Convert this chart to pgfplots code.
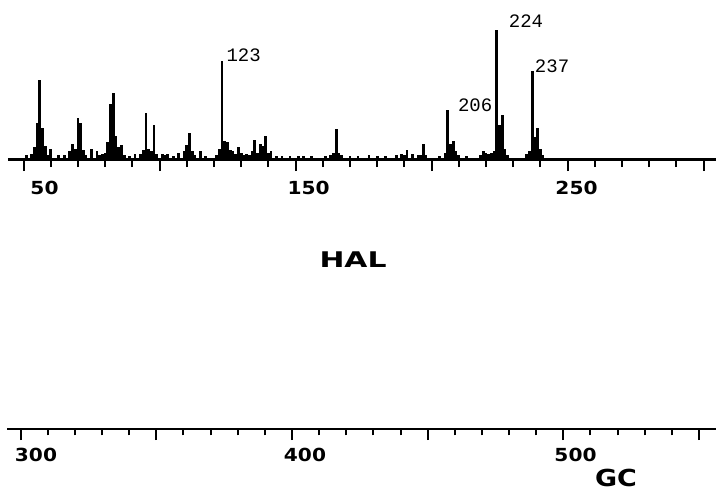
\documentclass[border=0pt]{standalone}
\usepackage{pgfplots}
\pgfplotsset{compat=1.18}
\usepackage{graphicx}
\usepackage{fontspec}
\setmainfont{DejaVu Sans}
\newfontfamily\monofont{Liberation Mono}
\newcommand{\tl}[1]{\scalebox{1.12}[1]{\fontsize{9pt}{10pt}\bfseries #1}}
\begin{document}
\begin{tikzpicture}
\useasboundingbox (-4pt,-167.5pt) rectangle (354pt,79.5pt);
\begin{axis}[
  at={(0pt,0pt)}, anchor=south west,
  scale only axis, width=354pt, height=64.5pt,
  xmin=44.3, xmax=304.6, ymin=0, ymax=100,
  axis x line=bottom, axis y line=none,
  axis line style={-, line width=1.5pt},
  xtick={50,100,...,300}, minor x tick num=4,
  xticklabels={},
  tick align=outside,
  major tick length=6pt, minor tick length=4pt,
  tick style={black, line width=1pt},
  clip=false,
]
\addplot[ycomb, black, line width=1.4pt, mark=none] table {
m i
51 3
53 4
54 9
55 28
56 61
57 24
58 10
59 3
60 8
63 3
65 3
67 6
68 12
69 8
70 32
71 28
72 7
73 3
75 8
77 6
78 3
79 4
80 5
81 13
82 43
83 51
84 18
85 9
86 11
87 3
89 2
91 4
93 4
94 7
95 36
96 8
97 6
98 26
99 4
101 4
102 3
103 4
105 2
107 5
109 6
110 11
111 20
112 6
113 3
115 6
117 2
121 3
122 8
123 76
124 14
125 13
126 7
127 6
128 4
129 9
130 5
131 3
132 4
133 3
134 6
135 15
136 5
137 12
138 10
139 18
140 5
141 6
143 2
145 2
148 2
151 2
153 2
156 2
161 2
163 3
164 5
165 23
166 5
167 3
170 2
173 2
177 3
180 2
183 2
187 3
189 4
190 3
191 7
193 4
195 3
196 3
197 12
198 3
203 2
205 5
206 38
207 12
208 14
209 6
210 3
213 2
218 3
219 6
220 5
221 4
222 5
223 6
224 100
225 26
226 34
227 8
228 3
235 4
236 6
237 68
238 17
239 24
240 8
241 3
};
\node[anchor=west, inner sep=0, font=\monofont\fontsize{9.5pt}{10pt}\selectfont] at (axis cs:124.5,80.6) {123};
\node[anchor=west, inner sep=0, font=\monofont\fontsize{9.5pt}{10pt}\selectfont] at (axis cs:228.3,107) {224};
\node[anchor=west, inner sep=0, font=\monofont\fontsize{9.5pt}{10pt}\selectfont] at (axis cs:237.9,72) {237};
\node[anchor=west, inner sep=0, font=\monofont\fontsize{9.5pt}{10pt}\selectfont] at (axis cs:209.6,41.9) {206};
\end{axis}
\node[inner sep=0] at (18.25pt,-14.25pt) {\tl{50}};
\node[inner sep=0] at (150.35pt,-14.25pt) {\tl{150}};
\node[inner sep=0] at (284.25pt,-14.25pt) {\tl{250}};
\node[inner sep=0] at (172.5pt,-50.5pt) {\scalebox{1.38}[1]{\fontsize{10.8pt}{12pt}\bfseries HAL}};
\begin{axis}[
  at={(-0.5pt,-135pt)}, anchor=south west,
  scale only axis, width=354.5pt, height=10pt,
  xmin=294.95, xmax=556.3, ymin=0, ymax=1,
  axis x line=bottom, axis y line=none,
  axis line style={-, line width=1.2pt},
  xtick={300,350,...,550}, minor x tick num=4,
  xticklabels={},
  tick align=outside,
  major tick length=5.5pt, minor tick length=3.2pt,
  tick style={black, line width=1pt},
  clip=false,
]
\end{axis}
\node[inner sep=0] at (14pt,-148pt) {\tl{300}};
\node[inner sep=0] at (148.5pt,-148pt) {\tl{400}};
\node[inner sep=0] at (283.75pt,-148pt) {\tl{500}};
\node[inner sep=0] at (304pt,-159.5pt) {\scalebox{1.15}[1]{\fontsize{11.7pt}{13pt}\bfseries GC}};
\end{tikzpicture}
\end{document}
